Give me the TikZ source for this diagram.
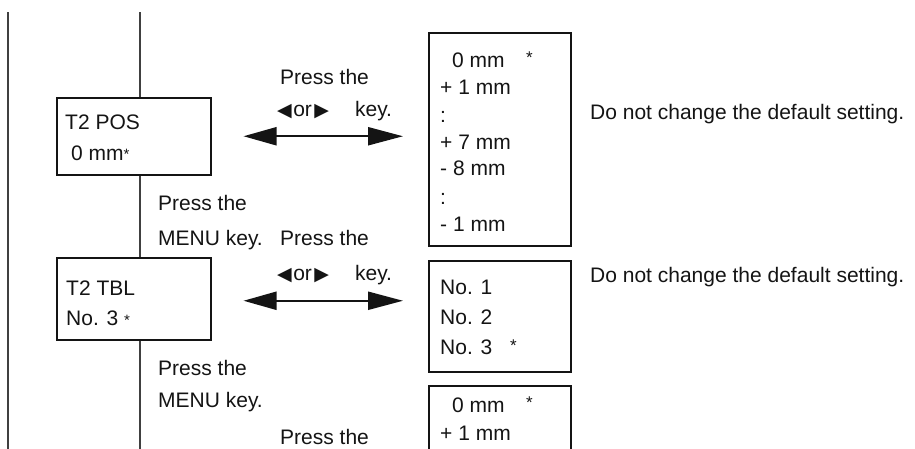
\documentclass[tikz,border=0pt]{standalone}
\usepackage{fontspec}
\setmainfont{Liberation Sans}
\newfontfamily\symfont{DejaVu Sans}
\usetikzlibrary{arrows.meta}
\definecolor{ink}{HTML}{141414}
\definecolor{rule}{HTML}{404040}
\newcommand{\smallstar}{{\fontsize{17}{17}\selectfont *}}
\newcommand{\tinystar}{{\fontsize{15}{15}\selectfont *}}
\newcommand{\lefttri}{{\fontsize{19}{19}\symfont ◀}}
\newcommand{\righttri}{{\fontsize{19}{19}\symfont ▶}}
\newcommand{\keylabel}{\lefttri\hspace{1.5pt}or\hspace{2.5pt}\righttri\hspace{26pt}key.}
\begin{document}
\begin{tikzpicture}[x=1pt,y=-1pt,
  txt/.style={anchor=base west, inner sep=0pt, font=\fontsize{21}{25}\selectfont, text=ink},
  box/.style={draw=ink, line width=1.5pt, inner sep=0pt, anchor=north west},
  vline/.style={draw=rule, line width=2.2pt},
  dbl/.style={draw=ink, line width=2.2pt, {Triangle[length=33pt,width=18pt]}-{Triangle[length=35pt,width=18pt]}}]
\useasboundingbox (0,0) rectangle (915,448);
\clip (0,0) rectangle (915,448);

% left boxes
\node[box, minimum width=154pt, minimum height=77pt] (pos) at (56,97) {};
\node[box, minimum width=154pt, minimum height=82pt] (tbl) at (56,257) {};
% right boxes
\node[box, minimum width=142pt, minimum height=213pt] (optA) at (428,32) {};
\node[box, minimum width=142pt, minimum height=111pt] (optB) at (428,260) {};
\node[box, minimum width=142pt, minimum height=100pt] (optC) at (428,385) {};

% vertical rules
\coordinate (l1top) at (8,12);
\coordinate (l1bot) at (8,460);
\draw[vline] (l1top) -- (l1bot);
\coordinate (l2top) at (140,12);
\coordinate (l2bot) at (140,460);
\draw[vline] (l2top) -- (l2top |- pos.north);
\draw[vline] (l2top |- pos.south) -- (l2top |- tbl.north);
\draw[vline] (l2top |- tbl.south) -- (l2bot);

% double arrows
\draw[dbl, shorten <=32pt, shorten >=25pt] (pos.east) -- (pos.east -| optA.west);
\draw[dbl, shorten <=32pt, shorten >=25pt] ([yshift=-2pt]tbl.east) -- ([yshift=-2pt]tbl.east -| optB.west);

% texts in left boxes
\node[txt] (posa) at (65,129.5) {T2 POS};
\node[txt] (posb) at (71,160.5) {0 mm\raisebox{1pt}{\tinystar}};
\node[txt] (tbla) at (66,295.5) {T2 TBL};
\node[txt] (tblb) at (66,325.5) {No. 3 \tinystar};

% labels by arrows
\node[txt] (p1) at (280,84.5) {Press the};
\node[txt] (k1) at (277,116) {\keylabel};
\node[txt] (m1a) at (158,210.5) {Press the};
\node[txt] (m1b) at (158,245) {MENU key.};
\node[txt] (p2) at (280,245) {Press the};
\node[txt] (k2) at (277,280) {\keylabel};
\node[txt] (m2a) at (158,375.5) {Press the};
\node[txt] (m2b) at (158,407.5) {MENU key.};
\node[txt] (p3) at (280,444.5) {Press the};

% option list A
\node[txt] (a1) at (452,67.5) {0 mm};
\node[txt] (a1s) at (526,63) {\smallstar};
\node[txt] (a2) at (440,94.5) {+ 1 mm};
\node[txt] (a3) at (440,122) {:};
\node[txt] (a4) at (440,149.5) {+ 7 mm};
\node[txt] (a5) at (440,175.5) {- 8 mm};
\node[txt] (a6) at (440,204) {:};
\node[txt] (a7) at (440,231.5) {- 1 mm};
\node[txt] (na) at (590,119.5) {Do not change the default setting.};

% option list B
\node[txt] (b1) at (440,294.5) {No. 1};
\node[txt] (b2) at (440,324.5) {No. 2};
\node[txt] (b3) at (440,354.5) {No. 3};
\node[txt] (b3s) at (510,351) {\smallstar};
\node[txt] (nb) at (590,282.5) {Do not change the default setting.};

% option list C
\node[txt] (c1) at (452,412.5) {0 mm};
\node[txt] (c1s) at (526,408) {\smallstar};
\node[txt] (c2) at (440,440.5) {+ 1 mm};
\end{tikzpicture}
\end{document}
